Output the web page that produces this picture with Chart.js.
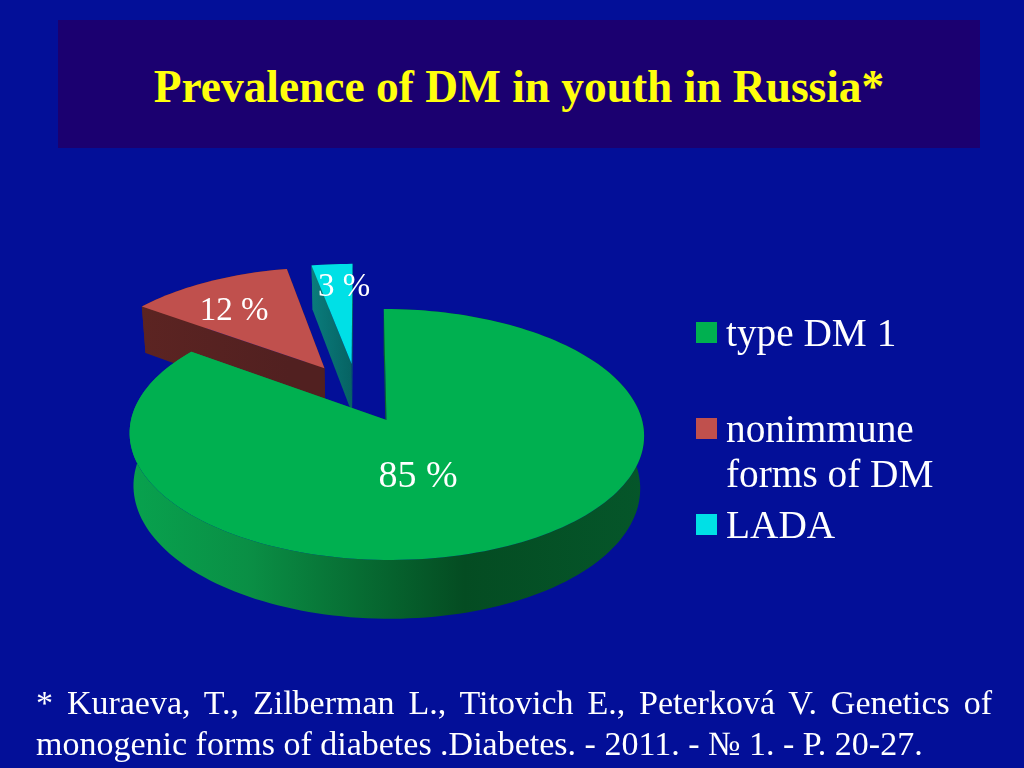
<!DOCTYPE html>
<html>
<head>
<meta charset="utf-8">
<script src="https://cdn.jsdelivr.net/npm/chart.js@4"></script>
<style>
  html, body { margin: 0; padding: 0; background: #030f98; }
  #page { position: relative; width: 1024px; height: 768px; overflow: hidden; background: #030f98;
          font-family: "Liberation Serif", serif; color: #fff; }
  #bar { position: absolute; left: 58px; top: 20px; width: 922px; height: 128px; background: #1b0070; }
  #title { position: absolute; left: 0; top: 61px; width: 1038px; text-align: center;
           font-size: 45.4px; font-weight: bold; color: #ffff0d; line-height: 52px; white-space: nowrap; }
  canvas { position: absolute; left: 0; top: 0; }
  .swatch { position: absolute; left: 696px; width: 21px; height: 21px; }
  .entry { position: absolute; left: 726px; font-size: 39.3px; line-height: 45px; white-space: pre; }
  #note { position: absolute; left: 36px; top: 682px; width: 956px; font-size: 34px; line-height: 41px; }
  #note div { white-space: nowrap; }
  #note .first { white-space: normal; text-align: justify; text-align-last: justify; }
</style>
</head>
<body>
<div id="page">
  <div id="bar"></div>
  <div id="title"></div>
  <canvas id="pie" width="1024" height="768"></canvas>
  <div id="legend"></div>
  <div id="note"></div>
</div>
<script>
(function() {
    "use strict";
    const titleText = 'Prevalence of DM in youth in Russia*';
    const categories = ['type DM 1', 'nonimmune\nforms of DM', 'LADA'];
    const shares = [85, 12, 3];
    const noteLines = [
        '* Kuraeva, T., Zilberman L., Titovich E., Peterková V. Genetics of',
        'monogenic forms of diabetes .Diabetes. - 2011. - № 1. - P. 20-27.'
    ];

    const topColors = ['#00b050', '#c0504d', '#00e0e6'];
    const wallColors = [
        ['#08a24e', '#0a8f45', '#044c22', '#05562a'],
        ['#5c2422', '#512020'],
        ['#0a7c7c', '#066262']
    ];
    const labelSpots = [[418, 487, 38], [234, 320, 33], [344, 296, 33]];
    const legendTops = [[322, 311], [418, 407], [514, 503]];

    document.getElementById('title').textContent = titleText;
    noteLines.forEach((t, i) => {
        const d = document.createElement('div');
        d.textContent = t;
        if (i === 0) d.className = 'first';
        document.getElementById('note').appendChild(d);
    });
    categories.forEach((c, i) => {
        const s = document.createElement('div');
        s.className = 'swatch';
        s.style.top = legendTops[i][0] + 'px';
        s.style.background = topColors[i];
        const e = document.createElement('div');
        e.className = 'entry';
        e.style.top = legendTops[i][1] + 'px';
        e.textContent = c;
        document.getElementById('legend').appendChild(s);
        document.getElementById('legend').appendChild(e);
    });

    // perspective of the tilted pie, origin is the tip of the first slice
    const view = { x: 386.5, y: 420, sx: 255.5, sy: 123.8, skew: 3, tilt: 0.1155, depth: 52, shrink: 0.985 };

    function project(u, v, low) {
        const s = 1 / (1 - view.tilt * v);
        let x = view.x + (view.sx * u + view.skew * v) * s;
        let y = view.y + view.sy * v * s;
        if (low) {
            x = view.x + (x - view.x) * view.shrink;
            y += view.depth * s;
        }
        return [x, y];
    }

    function slicePoints(arc, origin) {
        const mid = (arc.startAngle + arc.endAngle) / 2;
        const off = arc.options.offset / 4;
        const r = arc.outerRadius;
        const tipX = (arc.x + Math.cos(mid) * off - origin[0]) / r;
        const tipY = (arc.y + Math.sin(mid) * off - origin[1]) / r;
        const n = Math.max(4, Math.ceil((arc.endAngle - arc.startAngle) / 0.03));
        const rim = [];
        for (let i = 0; i <= n; i++) {
            const a = arc.startAngle + (arc.endAngle - arc.startAngle) * i / n;
            rim.push([tipX + Math.cos(a), tipY + Math.sin(a)]);
        }
        return { tip: [tipX, tipY], rim };
    }

    function fillPath(ctx, pts, style) {
        ctx.beginPath();
        pts.forEach((p, i) => i ? ctx.lineTo(p[0], p[1]) : ctx.moveTo(p[0], p[1]));
        ctx.closePath();
        ctx.fillStyle = style;
        ctx.fill();
    }

    function wallStyle(ctx, pts, cols) {
        const xs = pts.map(p => p[0]);
        const g = ctx.createLinearGradient(Math.min(...xs), 0, Math.max(...xs), 0);
        const stops = cols.length === 4 ? [0, 0.23, 0.65, 1] : [0, 1];
        cols.forEach((c, i) => g.addColorStop(stops[i], c));
        return g;
    }

    const tiltedPie = {
        id: 'tiltedPie',
        beforeDatasetDraw(chart, args) {
            const ctx = chart.ctx;
            const arcs = args.meta.data;
            const first = arcs[0];
            const firstMid = (first.startAngle + first.endAngle) / 2;
            const origin = [
                first.x + Math.cos(firstMid) * first.options.offset / 4,
                first.y + Math.sin(firstMid) * first.options.offset / 4
            ];
            // back slices first so the big one hides their walls
            for (let i = arcs.length - 1; i >= 0; i--) {
                const sl = slicePoints(arcs[i], origin);
                const up = sl.rim.map(p => project(p[0], p[1], false));
                const down = sl.rim.map(p => project(p[0], p[1], true));
                const tipUp = project(sl.tip[0], sl.tip[1], false);
                const tipDown = project(sl.tip[0], sl.tip[1], true);
                const strip = up.concat(down.slice().reverse());
                const g = wallStyle(ctx, strip, wallColors[i]);
                fillPath(ctx, strip, g);
                fillPath(ctx, [tipUp, up[0], down[0], tipDown], g);
                fillPath(ctx, [tipUp, up[up.length - 1], down[down.length - 1], tipDown], g);
                fillPath(ctx, [tipUp].concat(up), arcs[i].options.backgroundColor);
            }
            return false;
        },
        afterDatasetsDraw(chart) {
            const ctx = chart.ctx;
            ctx.fillStyle = '#fff';
            ctx.textAlign = 'center';
            ctx.textBaseline = 'alphabetic';
            shares.forEach((v, i) => {
                ctx.font = labelSpots[i][2] + 'px "Liberation Serif"';
                ctx.fillText(v + ' %', labelSpots[i][0], labelSpots[i][1]);
            });
        }
    };

    new Chart(document.getElementById('pie'), {
        type: 'pie',
        data: {
            labels: categories,
            datasets: [{
                data: shares,
                backgroundColor: topColors,
                borderWidth: 0,
                radius: 200,
                offset: 202
            }]
        },
        options: {
            responsive: false,
            devicePixelRatio: 1,
            animation: false,
            plugins: { legend: { display: false }, tooltip: { enabled: false } }
        },
        plugins: [tiltedPie]
    });
})();
</script>
</body>
</html>
